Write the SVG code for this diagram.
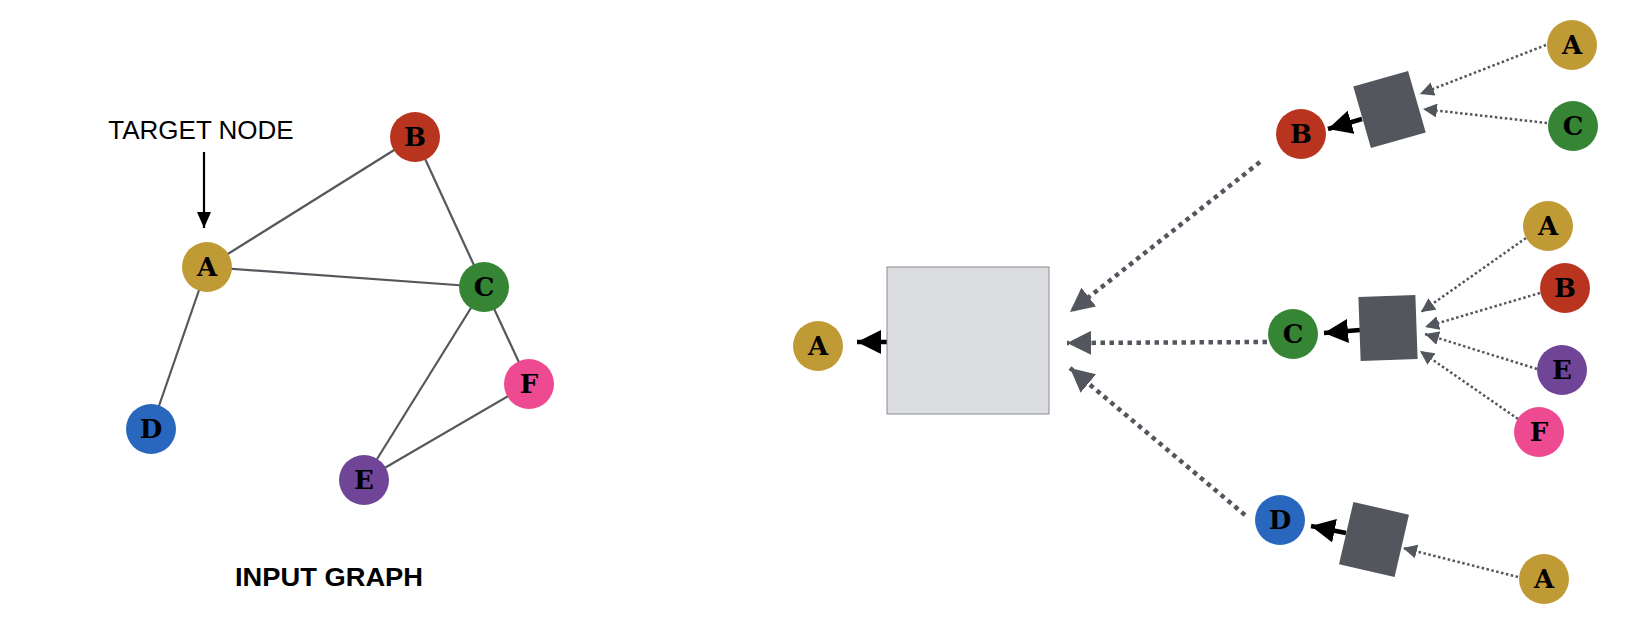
<svg xmlns="http://www.w3.org/2000/svg" width="1642" height="642" viewBox="0 0 1642 642">
<style>
.edge{stroke:#54575c;stroke-width:2.2;fill:none}
.lbl{font-family:"DejaVu Serif","Liberation Serif",serif;font-weight:bold;font-size:26px;text-anchor:middle;fill:#000}
.cA{fill:#c09a35}.cB{fill:#b9341f}.cC{fill:#358535}.cD{fill:#2867bd}.cE{fill:#704496}.cF{fill:#ee4a91}
.big{stroke:#53565d;stroke-width:4.5;stroke-dasharray:4.5 4.5;fill:none;marker-end:url(#mBig)}
.thin{stroke:#53565d;stroke-width:2.5;stroke-dasharray:2.5 2.5;fill:none;marker-end:url(#mThin)}
.blk{stroke:#000;stroke-width:4.5;fill:none;marker-end:url(#mBlk)}
.agg{fill:#53565d}
</style>
<defs>
<marker id="mBig" markerUnits="userSpaceOnUse" viewBox="0 0 24 24" markerWidth="24" markerHeight="24" refX="24" refY="12" orient="auto"><path d="M0,0L24,12L0,24z" fill="#53565d"/></marker>
<marker id="mThin" markerUnits="userSpaceOnUse" viewBox="0 0 14 14" markerWidth="14" markerHeight="14" refX="14" refY="7" orient="auto"><path d="M0,0L14,7L0,14z" fill="#53565d"/></marker>
<marker id="mBlk" markerUnits="userSpaceOnUse" viewBox="0 0 24 24" markerWidth="24" markerHeight="24" refX="24" refY="12" orient="auto"><path d="M0,0L24,12L0,24z" fill="#000"/></marker>
<marker id="mTgt" markerUnits="userSpaceOnUse" viewBox="0 0 16 14" markerWidth="16" markerHeight="14" refX="16" refY="7" orient="auto"><path d="M0,0L16,7L0,14z" fill="#000"/></marker>
</defs>
<g id="connectors">
<line class="edge" x1="207" y1="267" x2="415" y2="137"/>
<line class="edge" x1="207" y1="267" x2="484" y2="287"/>
<line class="edge" x1="207" y1="267" x2="151" y2="429"/>
<line class="edge" x1="415" y1="137" x2="484" y2="287"/>
<line class="edge" x1="484" y1="287" x2="364" y2="480"/>
<line class="edge" x1="484" y1="287" x2="529" y2="384"/>
<line class="edge" x1="364" y1="480" x2="529" y2="384"/>
<line x1="204" y1="152" x2="204" y2="228" stroke="#000" stroke-width="2.2" marker-end="url(#mTgt)"/>
<line class="big" x1="1260" y1="162" x2="1070" y2="312"/>
<line class="big" x1="1267" y1="342" x2="1067" y2="343"/>
<line class="big" x1="1245" y1="515" x2="1070" y2="368"/>
<line class="blk" x1="888" y1="342" x2="857" y2="342"/>
<line class="blk" x1="1362" y1="119" x2="1328" y2="129"/>
<line class="blk" x1="1360" y1="330" x2="1324" y2="333"/>
<line class="blk" x1="1346" y1="533" x2="1311" y2="526"/>
<line class="thin" x1="1546" y1="45" x2="1420" y2="94"/>
<line class="thin" x1="1547" y1="123" x2="1423" y2="109"/>
<line class="thin" x1="1526" y1="238" x2="1421" y2="312"/>
<line class="thin" x1="1540" y1="293" x2="1425" y2="327"/>
<line class="thin" x1="1537" y1="369" x2="1425" y2="334"/>
<line class="thin" x1="1518" y1="419" x2="1420" y2="351"/>
<line class="thin" x1="1518" y1="577" x2="1403" y2="548"/>
</g>
<text x="201" y="139" font-family="Liberation Sans,Arial,sans-serif" font-size="26" text-anchor="middle" fill="#000">TARGET NODE</text>
<text x="329" y="586" font-family="Liberation Sans,Arial,sans-serif" font-size="25" font-weight="bold" text-anchor="middle" fill="#000" textLength="188" lengthAdjust="spacingAndGlyphs">INPUT GRAPH</text>
<g id="in-A"><circle class="cA" cx="207" cy="267" r="25"/><text class="lbl" x="207" y="276">A</text></g>
<g id="in-B"><circle class="cB" cx="415" cy="137" r="25"/><text class="lbl" x="415" y="146">B</text></g>
<g id="in-C"><circle class="cC" cx="484" cy="287" r="25"/><text class="lbl" x="484" y="296">C</text></g>
<g id="in-D"><circle class="cD" cx="151" cy="429" r="25"/><text class="lbl" x="151" y="438">D</text></g>
<g id="in-E"><circle class="cE" cx="364" cy="480" r="25"/><text class="lbl" x="364" y="489">E</text></g>
<g id="in-F"><circle class="cF" cx="529" cy="384" r="25"/><text class="lbl" x="529" y="393">F</text></g>
<g id="main-box"><rect x="887" y="267" width="162" height="147" fill="#dcdde0" stroke="#8a8c90" stroke-width="1"/></g>
<g id="out-A"><circle class="cA" cx="818" cy="346" r="25"/><text class="lbl" x="818" y="355">A</text></g>
<g id="agg-B"><rect class="agg" x="-28.5" y="-32" width="57" height="64" transform="translate(1389.5 109.5) rotate(-16)"/></g>
<g id="agg-C"><rect class="agg" x="-28.5" y="-32" width="57" height="64" transform="translate(1388 328) rotate(-2)"/></g>
<g id="agg-D"><rect class="agg" x="-28.5" y="-32" width="57" height="64" transform="translate(1374 539.5) rotate(13)"/></g>
<g id="l1-B"><circle class="cB" cx="1301" cy="134" r="25"/><text class="lbl" x="1301" y="143">B</text></g>
<g id="l1-C"><circle class="cC" cx="1293" cy="334" r="25"/><text class="lbl" x="1293" y="343">C</text></g>
<g id="l1-D"><circle class="cD" cx="1280" cy="520" r="25"/><text class="lbl" x="1280" y="529">D</text></g>
<g id="l2-B-A"><circle class="cA" cx="1572" cy="45" r="25"/><text class="lbl" x="1572" y="54">A</text></g>
<g id="l2-B-C"><circle class="cC" cx="1573" cy="126" r="25"/><text class="lbl" x="1573" y="135">C</text></g>
<g id="l2-C-A"><circle class="cA" cx="1548" cy="226" r="25"/><text class="lbl" x="1548" y="235">A</text></g>
<g id="l2-C-B"><circle class="cB" cx="1565" cy="288" r="25"/><text class="lbl" x="1565" y="297">B</text></g>
<g id="l2-C-E"><circle class="cE" cx="1562" cy="370" r="25"/><text class="lbl" x="1562" y="379">E</text></g>
<g id="l2-C-F"><circle class="cF" cx="1539" cy="432" r="25"/><text class="lbl" x="1539" y="441">F</text></g>
<g id="l2-D-A"><circle class="cA" cx="1544" cy="579" r="25"/><text class="lbl" x="1544" y="588">A</text></g>
</svg>
